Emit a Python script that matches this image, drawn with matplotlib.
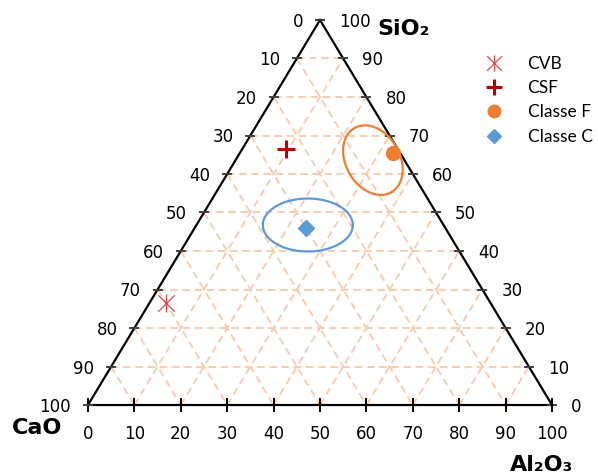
import matplotlib
matplotlib.use("Agg")
import matplotlib.pyplot as plt
import numpy as np
from matplotlib.path import Path

# composições (%)
nomes = ["CVB", "CSF", "Classe F", "Classe C"]
sio2 = np.array([26.5, 66.5, 65.5, 46.0])
cao = np.array([70.0, 24.0, 1.5, 30.0])
al2o3 = np.array([3.5, 9.5, 33.0, 24.0])

# centros das elipses (SiO2, Al2O3)
elipse_f = (63.6, 29.6)
elipse_c = (46.75, 24.0)

ticks = np.arange(0, 101, 10)

W, H = 598, 474
PX, PY = 464.0, 385.0  # pixels por unidade


def tern(si, al):
    si = np.asarray(si) / 100.0
    al = np.asarray(al) / 100.0
    return al + si / 2.0, si


fig = plt.figure(figsize=(W / 100, H / 100), dpi=100)
ax = fig.add_axes([0, 0, 1, 1])
ax.set_xlim(-88 / PX, (W - 88) / PX)
ax.set_ylim(-69 / PY, (H - 69) / PY)
ax.axis("off")

# grade
gc = "#F8CBAD"
ls = (0, (4, 2.5))
for k in ticks[1:-1]:
    # SiO2 constante
    x, y = tern([k, k], [0, 100 - k])
    ax.plot(x, y, color=gc, lw=1.35, ls=ls, zorder=1)
    # CaO constante
    x, y = tern([100 - k, 0], [0, 100 - k])
    ax.plot(x, y, color=gc, lw=1.35, ls=ls, zorder=1)
    # Al2O3 constante
    x, y = tern([0, 100 - k], [k, k])
    ax.plot(x, y, color=gc, lw=1.35, ls=ls, zorder=1)

# triângulo
x, y = tern([0, 0, 100, 0], [0, 100, 0, 0])
ax.plot(x, y, color="black", lw=1.6, zorder=3, solid_joinstyle="miter")

# marcas e rótulos
tk = "#404040"
fs = 12
for t in ticks:
    # lado esquerdo: CaO
    ex, ey = tern(100 - t, 0)
    ax.plot([ex - 4 / PX, ex + 4 / PX], [ey, ey], color=tk, lw=1.4, zorder=4)
    ax.text(ex - 17 / PX, ey - 2 / PY, str(t), ha="right", va="center", fontsize=fs)
    # lado direito: SiO2
    ex, ey = tern(t, 100 - t)
    ax.plot([ex - 4 / PX, ex + 4 / PX], [ey, ey], color=tk, lw=1.4, zorder=4)
    ax.text(ex + 19 / PX, ey - 2 / PY, str(t), ha="left", va="center", fontsize=fs)
    # base: Al2O3
    ex, ey = tern(0, t)
    ax.plot([ex, ex], [ey - 6 / PY, ey + 6 / PY], color="black", lw=1.4, zorder=4)
    ax.text(ex, ey - 29 / PY, str(t), ha="center", va="center", fontsize=fs)

# títulos dos eixos
ax.text((404 - 88) / PX, (405 - 29) / PY, "SiO₂", fontsize=16, fontweight="bold",
        ha="center", va="center")
ax.text((37 - 88) / PX, (405 - 428) / PY, "CaO", fontsize=16, fontweight="bold",
        ha="center", va="center")
ax.text((542 - 88) / PX, (405 - 465) / PY, "Al₂O₃", fontsize=16, fontweight="bold",
        ha="center", va="center")


# elipses (desenhadas em pixels)
def elipse(centro, a, b, ang, cor):
    cx, cy = tern(*centro)
    t = np.linspace(0, 2 * np.pi, 200)
    th = np.deg2rad(ang)
    dx = a * np.cos(t) * np.cos(th) - b * np.sin(t) * np.sin(th)
    dy = a * np.cos(t) * np.sin(th) + b * np.sin(t) * np.cos(th)
    ax.plot(cx + dx / PX, cy + dy / PY, color=cor, lw=1.6, zorder=5)


elipse(elipse_f, 37, 27, -60, "#ED7D31")
elipse(elipse_c, 45, 26.5, 0, "#5B9BD5")

# pontos
asterisco = Path([(-1, -1), (1, 1), (-1, 1), (1, -1), (0, -1.1), (0, 1.1)],
                 [Path.MOVETO, Path.LINETO, Path.MOVETO, Path.LINETO, Path.MOVETO, Path.LINETO])
estilos = [
    dict(marker=asterisco, color="#E04848", ms=13, mew=0.9),
    dict(marker="+", color="#C00000", ms=13, mew=2.2),
    dict(marker="o", color="#ED7D31", ms=10),
    dict(marker="D", color="#5B9BD5", ms=8),
]
px, py = tern(sio2, al2o3)
for i in range(len(nomes)):
    ax.plot(px[i], py[i], ls="none", label=nomes[i], zorder=6, **estilos[i])

ax.legend(loc="upper left", bbox_to_anchor=(472 / W, 1 - 47 / H), frameon=False,
          borderpad=0, handlelength=1.5, handletextpad=1.2, labelspacing=0.48,
          numpoints=1, markerscale=0.9, prop={"family": "Lato", "size": 12.5})

fig.savefig("out.png", dpi=100)
